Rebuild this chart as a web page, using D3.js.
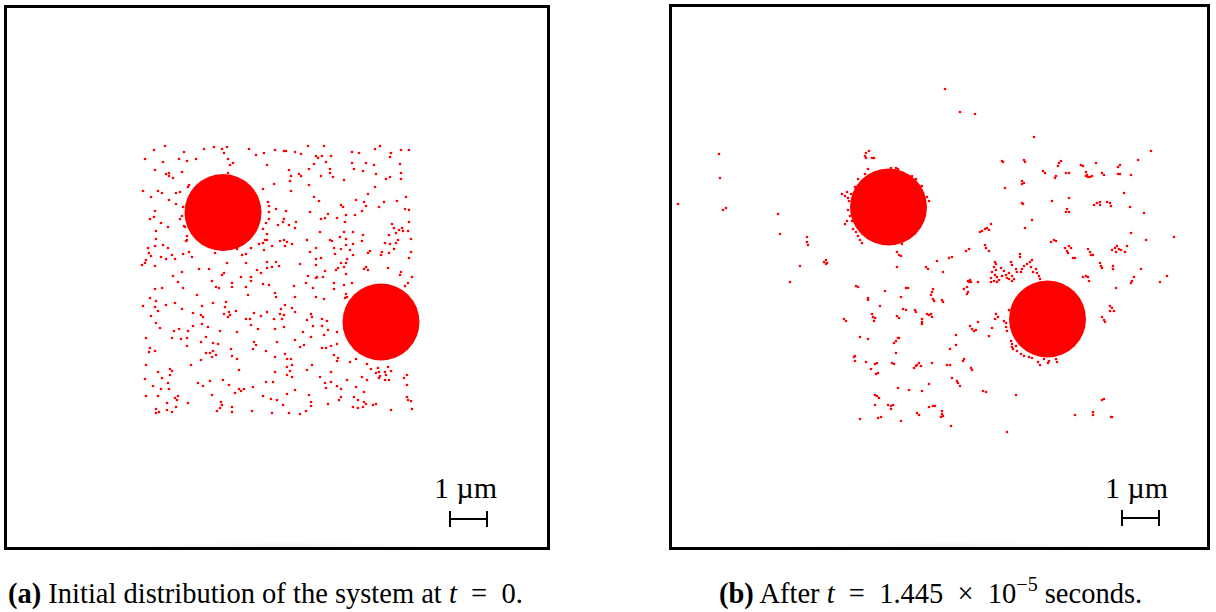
<!DOCTYPE html>
<html>
<head>
<meta charset="utf-8">
<script src="https://cdn.jsdelivr.net/npm/d3@7"></script>
<style>
  html, body { margin: 0; padding: 0; background: #fff; }
  svg { display: block; }
</style>
</head>
<body>
<svg id="fig" width="1216" height="612"></svg>
<script>
// Particle positions in lattice units, measured from the top-left corner of the simulation box.
const initialParticles = [
[161,141],[150,145],[141,154],[200,144],[210,142],[218,144],[223,142],[220,148],[180,147],[175,154],[183,156],[192,154],[159,157],[224,154],[226,160],[229,158],[245,144],[252,150],[260,148],[271,145],[263,160],[151,165],[162,169],[165,168],[165,171],[169,173],[178,167],[224,168],[270,179],[139,186],[154,186],[158,188],[172,188],[176,187],[185,180],[184,182],[259,184],[147,192],[165,195],[264,197],[265,201],[272,204],[151,206],[172,199],[179,202],[265,207],[150,212],[146,214],[178,211],[176,214],[265,214],[157,218],[262,218],[180,221],[181,222],[164,222],[259,224],[152,226],[274,220],[183,231],[183,235],[182,236],[152,234],[263,229],[263,235],[144,243],[151,241],[159,240],[164,243],[145,248],[147,251],[157,252],[162,254],[168,250],[171,254],[179,249],[185,247],[188,252],[211,248],[233,244],[238,250],[242,249],[247,243],[255,239],[259,238],[261,235],[260,245],[268,241],[142,255],[141,258],[138,260],[151,261],[223,258],[242,258],[263,257],[272,257],[253,265],[263,263],[268,262],[195,264],[205,264],[178,267],[169,271],[218,270],[220,268],[237,272],[247,272],[257,268],
[280,146],[282,146],[291,147],[297,149],[304,141],[320,141],[312,151],[314,153],[318,151],[327,151],[322,157],[310,159],[348,147],[355,148],[371,144],[376,141],[387,148],[386,152],[397,145],[405,145],[348,158],[362,158],[370,160],[396,159],[285,165],[305,164],[326,164],[326,168],[329,172],[317,171],[295,169],[297,171],[287,171],[286,176],[350,164],[359,166],[372,169],[386,172],[382,174],[397,168],[397,174],[340,175],[305,180],[371,182],[287,186],[364,189],[310,192],[315,196],[352,195],[360,197],[362,201],[380,197],[393,196],[402,192],[337,200],[339,202],[375,202],[401,204],[405,205],[282,206],[306,207],[358,206],[324,209],[342,210],[351,210],[317,214],[321,213],[333,213],[280,214],[279,217],[292,217],[341,217],[405,217],[285,220],[291,223],[388,219],[390,223],[398,223],[399,226],[395,225],[404,226],[392,228],[316,227],[340,227],[349,227],[359,230],[385,230],[336,232],[280,235],[283,237],[276,236],[303,235],[326,235],[328,236],[342,234],[358,236],[394,235],[392,238],[407,234],[281,241],[288,239],[381,238],[342,240],[349,239],[312,243],[330,243],[337,244],[346,245],[386,239],[390,244],[306,247],[364,248],[366,246],[378,247],[377,250],[385,248],[407,247],[349,250],[331,249],[312,254],[317,253],[343,254],[405,253],[337,258],[342,258],[296,259],[312,260],[275,261],[362,262],[364,265],[360,264],[384,263],[334,263],[332,265],[340,262],[321,266],[397,267],[396,270],[342,269],[304,271],[313,272],[312,273],[319,272],[408,272],
[174,277],[208,276],[212,282],[215,283],[228,278],[228,282],[247,276],[242,282],[259,279],[265,280],[271,288],[272,292],[151,284],[158,283],[179,283],[193,290],[244,290],[146,293],[152,296],[171,298],[162,300],[139,301],[151,302],[154,306],[209,298],[222,297],[221,302],[198,301],[178,304],[232,306],[147,311],[189,308],[197,310],[199,312],[220,309],[225,307],[226,310],[224,312],[250,308],[257,311],[263,307],[242,314],[246,314],[270,314],[152,318],[198,319],[156,323],[189,321],[204,322],[247,320],[254,324],[271,324],[175,324],[170,326],[184,326],[216,326],[233,327],[142,333],[168,333],[177,334],[183,333],[202,332],[197,337],[250,337],[252,340],[273,337],[209,338],[214,339],[183,341],[146,343],[145,347],[151,346],[227,344],[249,344],[262,346],[202,348],[206,348],[209,346],[208,352],[212,350],[228,351],[233,354],[271,352],[197,355],[142,360],[187,360],[166,364],[168,366],[154,367],[235,365],[271,367],[166,370],[141,374],[158,373],[219,375],[206,376],[194,378],[164,378],[262,377],[269,377],[149,381],[199,381],[225,380],[249,382],[157,384],[165,384],[235,384],[237,386],[240,384],[231,388],[208,390],[142,391],[154,391],[174,391],[171,393],[173,395],[259,391],[267,394],[273,395],[184,398],[163,398],[217,397],[218,400],[216,403],[172,402],[228,402],[152,404],[155,407],[152,408],[163,405],[168,407],[213,406],[228,407],[248,406],[268,408],
[290,281],[302,278],[309,283],[330,278],[330,284],[340,280],[348,278],[342,289],[341,293],[343,292],[291,292],[312,292],[320,294],[404,278],[401,281],[281,300],[288,303],[291,307],[277,304],[276,309],[280,310],[278,314],[307,309],[308,312],[303,315],[318,314],[323,316],[280,322],[309,321],[318,321],[324,325],[299,327],[333,327],[320,330],[307,332],[291,335],[333,339],[300,340],[296,342],[318,343],[322,343],[327,341],[281,349],[330,350],[334,353],[333,356],[283,354],[287,354],[352,354],[346,357],[363,359],[308,360],[283,362],[288,360],[303,365],[286,366],[367,364],[374,363],[375,367],[381,367],[384,362],[387,366],[327,367],[283,370],[288,372],[372,368],[376,371],[375,373],[382,370],[358,372],[363,375],[316,372],[403,370],[400,373],[381,375],[385,375],[343,375],[327,377],[321,378],[352,382],[333,381],[337,384],[322,383],[403,380],[291,385],[360,387],[283,389],[305,390],[337,392],[335,395],[350,392],[354,395],[403,392],[404,395],[407,396],[307,397],[307,401],[279,400],[324,399],[360,397],[362,399],[359,402],[369,400],[372,399],[349,402],[354,403],[387,405],[408,404],[285,408],[296,409],[302,406]
];

const laterParticles = [
[50,150],[51,174],[9,200],[54,206],[57,204],[109,210],[111,230],[138,233],[138,238],[139,241],[173,190],[176,192],[178,188],[179,194],[179,206],[176,220],[178,217],
[276,85],[291,108],[306,110],[365,133],[200,147],[197,149],[196,152],[197,154],[203,154],[205,154],[333,157],[334,158],[355,156],[356,158],[374,167],[376,169],[336,184],[353,177],[355,179],[353,180],[353,199],[354,200],[363,216],[356,224],[322,220],[311,228],[313,227],[316,225],[318,224],[320,226],[316,241],[317,244],[320,247],[297,247],[300,245],[351,250],[351,253],[280,254],[283,253],[228,248],[230,251],[232,252],
[199,165],[196,170],[189,175],[186,183],[182,190],[183,217],[187,228],[189,232],[191,236],[222,164],[227,164],[229,165],[243,172],[247,175],[253,182],[258,193],[260,197],[233,240],[180,197],[181,212],[184,225],[193,239],[198,173],
[482,147],[469,156],[392,157],[390,159],[389,162],[387,172],[386,174],[397,169],[400,169],[412,161],[414,162],[427,159],[417,168],[418,171],[421,173],[423,172],[419,173],[417,172],[433,169],[435,171],[449,163],[451,161],[449,170],[451,170],[462,171],[455,189],[383,197],[400,194],[398,205],[397,208],[400,208],[425,201],[428,199],[431,198],[431,201],[438,198],[441,199],[442,202],[461,203],[475,209],[462,229],[477,236],[505,233],[382,238],[385,236],[387,237],[396,244],[398,247],[399,249],[400,242],[402,244],[404,254],[406,254],[419,245],[421,248],[422,251],[424,251],[443,246],[446,244],[448,242],[450,245],[447,248],[452,246],[456,248],[458,242],[431,259],[432,262],[433,264],[444,262],[444,265],[472,265],[498,272],[491,278],[462,279],[463,277],[465,273],[414,273],[417,272],[419,273],[420,277],[447,284],[441,302],
[131,262],[121,278],[155,258],[157,260],[158,259],[157,256],[228,263],[257,263],[259,265],[268,257],[274,268],[299,277],[301,276],[302,278],[300,278],[309,278],[295,285],[298,283],[299,288],[298,290],[187,282],[189,283],[216,287],[199,294],[199,296],[237,284],[239,284],[232,293],[264,285],[263,288],[262,291],[264,295],[265,297],[273,296],[274,298],[211,302],[234,305],[237,306],[246,306],[247,308],[203,310],[204,313],[206,314],[205,317],[175,315],[177,317],[228,312],[230,314],[258,310],[260,311],[262,310],[263,313],[253,315],[253,318],[253,320],[309,318],[301,322],[303,325],[305,327],[307,326],[191,333],[199,335],[225,339],[227,337],[229,334],[230,334],[287,331],[287,341],[281,345],[227,349],[185,353],[186,357],[186,352],[197,358],[208,359],[206,360],[202,365],[223,359],[225,360],[245,364],[247,362],[248,361],[250,359],[252,362],[263,359],[278,361],[281,361],[295,355],[294,357],[302,364],[303,366],[207,370],[209,369],[283,374],[288,377],[289,379],[291,382],[260,380],[229,384],[240,386],[253,387],[206,391],[208,392],[210,394],[206,401],[219,401],[222,402],[224,401],[222,405],[260,403],[264,402],[266,402],[273,407],[273,410],[272,413],[274,412],[248,409],[250,411],[191,415],[209,414],[212,413],[232,417],[282,422],
[326,258],[327,260],[325,263],[327,266],[323,268],[326,271],[328,273],[325,277],[322,278],[330,276],[333,272],[337,271],[338,274],[340,269],[343,272],[345,275],[348,268],[352,268],[353,265],[355,262],[358,260],[361,258],[363,256],[362,263],[364,268],[367,265],[368,269],[370,272],[371,275],[342,258],[343,261],[332,264],[335,267],[347,265],[322,274],[328,278],[340,275],[343,277],
[327,310],[329,313],[326,315],[340,306],[335,317],[337,319],[337,323],[338,327],[323,324],[320,332],[342,337],[343,340],[343,343],[344,345],[347,342],[348,347],[352,350],[355,352],[360,353],[363,354],[369,358],[371,361],[375,355],[380,357],[379,359],[387,355],[388,358],
[443,304],[445,307],[441,307],[433,313],[435,316],[436,318],[314,387],[317,388],[347,391],[435,395],[433,396],[406,411],[424,408],[424,411],[442,413],[443,413],[338,428]
];

// Large obstacles (centre and radius, lattice units).
const initialObstacles = [
  { x: 219, y: 207.5, r: 38.5 },
  { x: 377, y: 317, r: 38.5 }
];
const laterObstacles = [
  { x: 219.5, y: 203, r: 38.5 },
  { x: 378.5, y: 315, r: 38.5 }
];

const scaleBarLabel = "1 µm";
const latticePerMicron = 37;

const svg = d3.select("#fig");
const serif = "'Liberation Serif', 'Times New Roman', 'DejaVu Serif', serif";

// Soft shading along the lower frame edge
const defs = svg.append("defs");
const grad = defs.append("radialGradient").attr("id", "floorShade")
  .attr("cx", "50%").attr("cy", "100%").attr("r", "50%");
grad.append("stop").attr("offset", "0%").attr("stop-color", "#000").attr("stop-opacity", 0.07);
grad.append("stop").attr("offset", "100%").attr("stop-color", "#000").attr("stop-opacity", 0);

function drawPanel(cfg) {
  const g = svg.append("g");
  const x = d3.scaleLinear().domain([0, cfg.w]).range([cfg.left, cfg.left + cfg.w]);
  const y = d3.scaleLinear().domain([0, cfg.h]).range([cfg.top, cfg.top + cfg.h]);

  g.append("rect")
    .attr("x", cfg.left + cfg.shadeFrom).attr("y", cfg.top + cfg.h - 18)
    .attr("width", cfg.shadeWidth).attr("height", 18)
    .attr("fill", "url(#floorShade)");

  g.append("g").selectAll("circle")
    .data(cfg.particles)
    .join("circle")
    .attr("cx", d => x(d[0]))
    .attr("cy", d => y(d[1]))
    .attr("r", 1.35)
    .attr("fill", "#ff0000");

  g.append("g").selectAll("circle")
    .data(cfg.obstacles)
    .join("circle")
    .attr("cx", d => x(d.x))
    .attr("cy", d => y(d.y))
    .attr("r", d => x(d.r) - x(0))
    .attr("fill", "#ff0000");

  // Scale bar: one micron
  const bx0 = x(cfg.barX), bx1 = x(cfg.barX + latticePerMicron), by = y(cfg.barY);
  const bar = g.append("g").attr("stroke", "#000").attr("stroke-width", 2).attr("fill", "none");
  bar.append("line").attr("x1", bx0).attr("x2", bx1).attr("y1", by).attr("y2", by);
  bar.append("line").attr("x1", bx0).attr("x2", bx0).attr("y1", by - 8).attr("y2", by + 8);
  bar.append("line").attr("x1", bx1).attr("x2", bx1).attr("y1", by - 8).attr("y2", by + 8);
  g.append("text")
    .attr("x", (bx0 + bx1) / 2 + cfg.labelDx).attr("y", y(cfg.labelY))
    .attr("text-anchor", "middle")
    .attr("font-family", serif)
    .attr("font-size", 30)
    .text(scaleBarLabel);

  // Frame
  g.append("rect")
    .attr("x", cfg.left + 1.5).attr("y", cfg.top + 1.5)
    .attr("width", cfg.w - 3).attr("height", cfg.h - 3)
    .attr("fill", "none").attr("stroke", "#000").attr("stroke-width", 3);
}

drawPanel({ left: 4, top: 5, w: 546, h: 545, particles: initialParticles, obstacles: initialObstacles,
  barX: 446, barY: 514, labelY: 493, labelDx: -3, shadeFrom: 100, shadeWidth: 360 });
drawPanel({ left: 669, top: 4, w: 541, h: 546, particles: laterParticles, obstacles: laterObstacles,
  barX: 453, barY: 514, labelY: 494, labelDx: -4, shadeFrom: 100, shadeWidth: 360 });

// Captions
function caption(xPos, parts) {
  const t = svg.append("text")
    .attr("x", xPos).attr("y", 603)
    .attr("font-family", serif)
    .attr("font-size", 28.5)
    .attr("xml:space", "preserve");
  parts.forEach(p => {
    const s = t.append("tspan").text(p.text);
    if (p.bold) s.attr("font-weight", "bold");
    if (p.italic) s.attr("font-style", "italic");
    if (p.sup) s.attr("font-size", 20).attr("dy", -12);
    if (p.after) s.attr("dy", 12);
  });
}
caption(8, [
  { text: "(a)", bold: true },
  { text: " Initial distribution of the system at " },
  { text: "t", italic: true },
  { text: "  =  0." }
]);
caption(719, [
  { text: "(b)", bold: true },
  { text: " After " },
  { text: "t", italic: true },
  { text: "  =  1.445  ×  10" },
  { text: "−5", sup: true },
  { text: " seconds.", after: true }
]);
</script>
</body>
</html>
